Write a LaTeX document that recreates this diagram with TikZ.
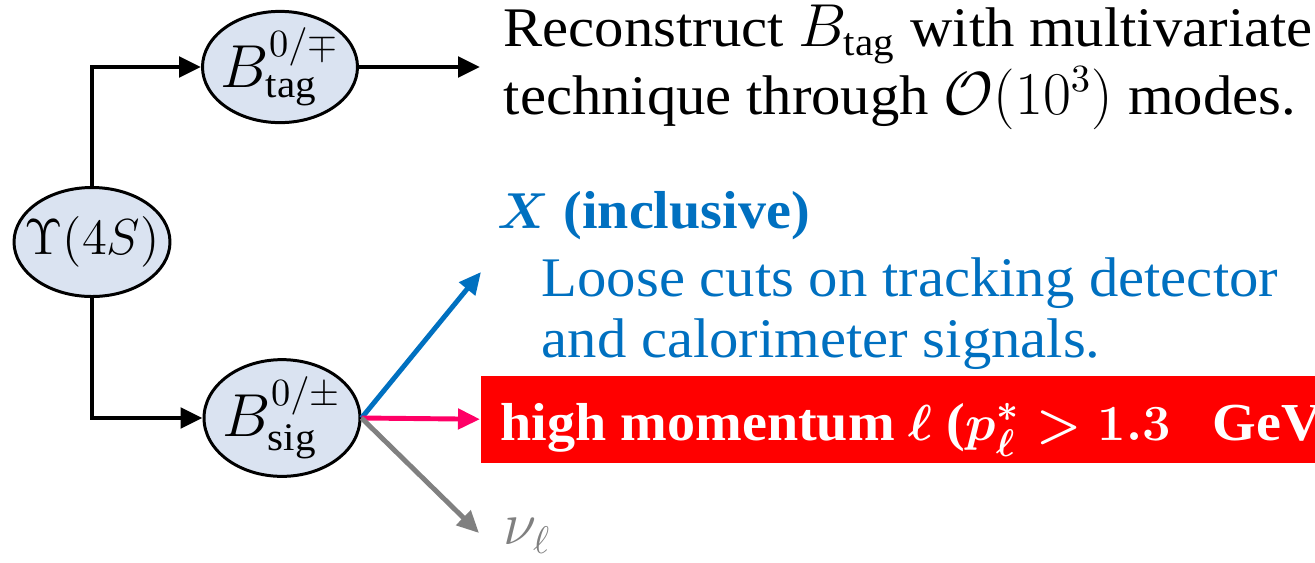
\documentclass[tikz,border=0pt]{standalone}
\usepackage{fontspec}
\setmainfont[FakeStretch=1.05]{Liberation Serif}
\usepackage{amsmath}
\usetikzlibrary{shapes.geometric,arrows.meta}
\definecolor{nodefill}{HTML}{DAE3F1}
\definecolor{xblue}{HTML}{0070C0}
\definecolor{lpink}{HTML}{FF0066}
\definecolor{nugray}{HTML}{808080}
\definecolor{boxred}{HTML}{FF0000}

\begin{document}
\begin{tikzpicture}[
  bigtxt/.style={font=\fontsize{15.9}{17.1}\selectfont},
  part/.style={draw, ellipse, fill=nodefill, line width=0.85pt, inner xsep=-0.2cm, inner ysep=0pt, bigtxt},
  conn/.style={line width=1.4pt, -{Triangle[length=0.22cm, width=0.2cm]}},
  wblue/.style={conn, xblue},
  wpink/.style={conn, lpink},
  wgray/.style={conn, nugray},
  desc/.style={bigtxt, anchor=base west, align=left, inner sep=0pt},
  boldtxt/.style={desc, font=\fontsize{15.2}{17.1}\selectfont\bfseries\boldmath},
]
\useasboundingbox (0,0) rectangle (13.15,-5.62);
\clip (0,0) rectangle (13.15,-5.62);

% ---------- particles ----------
\node[part, font=\fontsize{13.5}{16}\selectfont, minimum width=1.56cm, minimum height=1.09cm] (ups)  at (0.92,-2.42) {$\Upsilon(4S)$};
\node[part, minimum width=1.55cm, minimum height=1.08cm] (btag) at (2.80,-0.67) {$B^{0/\mp}_{\text{tag}}$};
\node[part, minimum width=1.56cm, minimum height=1.10cm] (bsig) at (2.82,-4.18) {$B^{0/\pm}_{\text{sig}}$};

% ---------- tag side ----------
\draw[conn] (ups.north) |- (btag.west);
\coordinate (tagend) at (4.80,-0.67);
\draw[conn] (btag.east) -- (tagend);
% base = last line
\node[desc] (tagtxt) at (5.03,-1.14)
  {Reconstruct $B_{\text{tag}}$ with multivariate\\technique through $\mathcal{O}(10^3)$ modes.};

% ---------- signal side ----------
\draw[conn] (ups.south) |- (bsig.west);

% X
\coordinate (xend) at (4.81,-2.72);
\draw[wblue] (bsig.east) -- (xend);
\node[boldtxt, xblue] (xtxt) at (4.97,-2.28) {$X$ (inclusive)};
\node[desc, xblue] (xcut) at (5.41,-3.57) {Loose cuts on tracking detector\\and calorimeter signals.};

% lepton
\node[fill=boxred, anchor=north west, minimum width=9cm, minimum height=0.87cm, inner sep=0pt] (lepbox) at (4.80,-3.75) {};
\draw[wpink] (bsig.east) -- (lepbox.west);
\node[boldtxt, white] (leptxt) at (5.00,-4.40)
  {high momentum $\ell$ ($p^*_\ell > 1.3$~~~GeV};

% neutrino
\coordinate (nuend) at (4.79,-5.33);
\draw[wgray] (bsig.east) -- (nuend);
\node[desc, nugray] (nu) at (5.03,-5.44) {$\nu_\ell$};

\end{tikzpicture}
\end{document}
